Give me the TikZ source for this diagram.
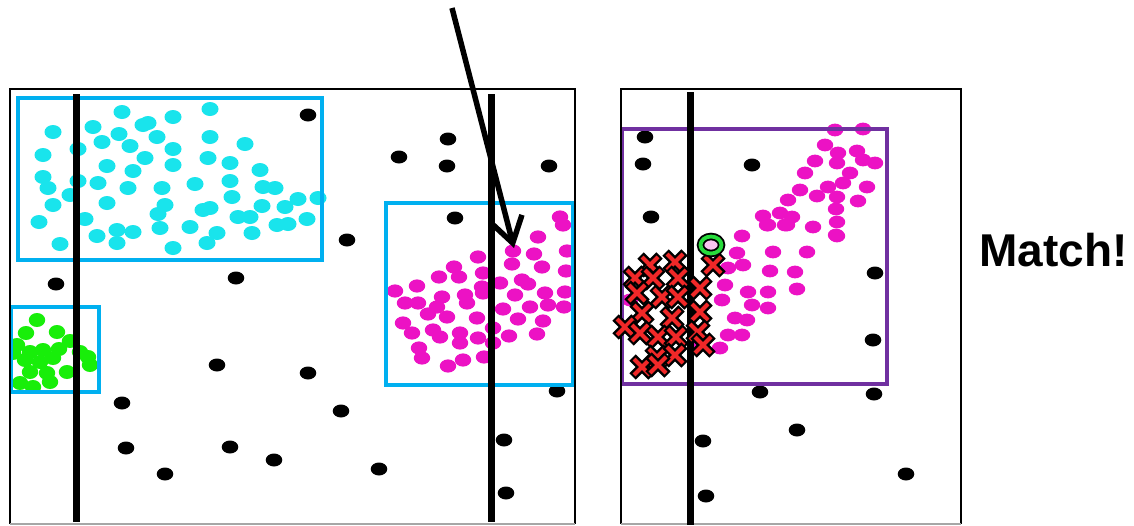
\documentclass[tikz,border=0pt]{standalone}
\usepackage{fontspec}
\setmainfont{Liberation Sans}
\usetikzlibrary{arrows.meta}
\definecolor{dotcyan}{RGB}{25,228,236}
\definecolor{dotmag}{RGB}{236,18,196}
\definecolor{dotgreen}{RGB}{24,238,10}
\definecolor{boxblue}{RGB}{0,176,240}
\definecolor{boxpurple}{RGB}{112,48,160}
\definecolor{xred}{RGB}{240,40,40}
\definecolor{ringgreen}{RGB}{40,220,60}
\tikzset{
  frame/.style={draw=black,line width=1.8pt},
  divline/.style={draw=black,line width=7pt},
  clusterbox/.style={draw=boxblue,line width=3.6pt},
  matchbox/.style={draw=boxpurple,line width=3.6pt},
  cdot/.style={fill=dotcyan},
  mdot/.style={fill=dotmag},
  gdot/.style={fill=dotgreen},
  bdot/.style={fill=black},
  bigarrow/.style={draw=black,line width=5.5pt,-{Straight Barb[length=25pt,width=32pt,line width=5.5pt]}},
  xout/.style={draw=black,line width=9pt},
  xin/.style={draw=xred,line width=4.2pt},
}
\begin{document}
\begin{tikzpicture}[x=1pt,y=-1pt]
\useasboundingbox (0,0) rectangle (1134,525);
\fill[white] (0,0) rectangle (1134,525);

% ---------- left panel dots ----------
\foreach \x/\y in {122/112,210/109,173/117,53/132,93/127,143/125,148/123,119/134,157/137,210/137,
  102/142,130/146,245/144,78/149,43/155,173/149,145/158,208/158,230/163,107/166,173/165,133/171,
  260/170,43/177,78/181,98/183,48/188,128/188,162/188,195/184,230/181,263/187,275/188,70/195,
  232/197,53/205,107/203,165/205,203/210,210/208,262/206,285/207,298/199,318/198,158/214,85/219,
  39/222,238/217,250/217,307/219,277/225,288/224,117/230,133/232,160/228,190/227,97/236,217/233,
  252/233,60/244,117/243,207/243,173/248}
  \fill[cdot] (\x,\y) ellipse [x radius=8.5pt, y radius=7pt];

\begin{scope}
\clip (12,308) rectangle (120,392);
\foreach \x/\y in {37/320,26/333,57/332,17/345,30/352,43/350,59/349,70/341,13/353,40/362,53/358,
  88/357,90/365,30/372,47/373,67/372,20/383,33/387,50/382,25/360,80/352}
  \fill[gdot] (\x,\y) ellipse [x radius=8.2pt, y radius=7pt];
\end{scope}

\foreach \x/\y in {560/217,563/225,538/237,513/251,478/257,454/267,483/273,439/277,459/277,512/264,
  534/254,542/267,567/251,566/271,395/291,417/286,500/283,522/280,528/284,482/287,483/293,405/303,
  418/303,442/297,465/295,467/303,515/295,545/293,565/292,437/307,428/314,447/317,477/318,503/309,
  530/307,548/305,564/307,518/319,543/321,403/323,433/330,440/337,460/333,493/328,412/333,478/338,
  509/336,537/334,460/343,493/343,419/348,422/358,448/366,463/360,484/357}
  \fill[mdot] (\x,\y) ellipse [x radius=8.2pt, y radius=6.6pt];

\foreach \x/\y in {308/115,448/139,399/157,447/166,549/166,347/240,455/218,56/284,236/278,217/365,
  308/373,122/403,341/411,126/448,230/447,274/460,165/474,379/469,557/391,504/440,506/493}
  \fill[bdot] (\x,\y) ellipse [x radius=8.3pt, y radius=6.5pt];

% ---------- right panel dots ----------
\foreach \x/\y in {835/130,863/129,825/145,838/153,857/151,863/160,875/163,815/161,837/163,805/173,
  850/173,843/183,828/187,867/187,800/190,817/196,837/197,788/200,858/201,836/209,763/216,780/213,
  792/217,768/225,785/225,813/227,837/222,836/235,742/236,737/253,773/252,807/252,767/225,787/225,
  837/236,743/265,770/271,795/272,797/289,748/292,768/292,752/305,768/308,747/320,742/335,
  728/268,725/285,722/300,735/318,728/335,720/348,630/300,632/330,700/345}
  \fill[mdot] (\x,\y) ellipse [x radius=8.2pt, y radius=6.4pt];

\foreach \x/\y in {645/137,643/164,752/165,651/217,875/273,873/340,760/392,874/394,797/430,703/441,
  906/474,706/496}
  \fill[bdot] (\x,\y) ellipse [x radius=8.3pt, y radius=6.5pt];

% ---------- boxes ----------
\draw[clusterbox] (18,98) rectangle (322,260);
\draw[clusterbox] (11,307) rectangle (99,392);
\draw[clusterbox] (386,203) rectangle (573,385);
\draw[matchbox] (622,129) rectangle (887,384);

% ---------- panel frames ----------
\draw[frame] (10,524) -- (10,89) -- (575,89) -- (575,524);
\draw[draw=gray!70,line width=1.8pt] (10,524) -- (575,524);
\draw[frame] (621,524) -- (621,89) -- (961,89) -- (961,524);
\draw[draw=gray!70,line width=1.8pt] (621,524) -- (961,524);

% ---------- dividing lines ----------
\draw[divline] (76,94) -- (76,522);
\draw[divline] (491,94) -- (491,522);
\draw[divline] (690,92) -- (690,525);

% ---------- crosses ----------
\foreach \x/\y in {650/265,675/262,635/278,653/278,678/278,700/288,637/293,662/297,678/297,
  642/313,672/318,700/312,625/327,640/333,658/337,676/337,698/332,703/345,657/357,675/355,
  642/367,658/365,713/265}
{
  \draw[xout] (\x-9.5,\y-9.5) -- (\x+9.5,\y+9.5) (\x-9.5,\y+9.5) -- (\x+9.5,\y-9.5);
  \draw[xin] (\x-8,\y-8) -- (\x+8,\y+8) (\x-8,\y+8) -- (\x+8,\y-8);
}

% ---------- ring ----------
\coordinate (ring) at (711,245);
\fill[dotmag!25] (ring) ellipse [x radius=10.5pt, y radius=8.5pt];
\draw[black,line width=7.5pt] (ring) ellipse [x radius=10.5pt, y radius=8.5pt];
\draw[ringgreen,line width=3.8pt] (ring) ellipse [x radius=10.5pt, y radius=8.5pt];

% ---------- arrow ----------
\coordinate (astart) at (452,8);
\coordinate (atip) at (514,248);
\draw[bigarrow] (astart) -- (atip);

% ---------- label ----------
\node[anchor=base west,inner sep=0pt,font=\bfseries\fontsize{46}{50}\selectfont] (match) at (979,266) {Match!};
\end{tikzpicture}
\end{document}
